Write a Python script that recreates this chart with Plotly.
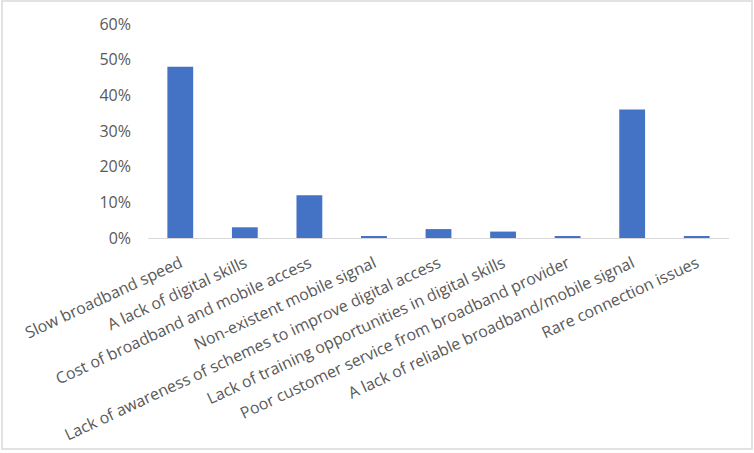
import plotly.graph_objects as go

categories = [
    "Slow broadband speed",
    "A lack of digital skills",
    "Cost of broadband and mobile access",
    "Non-existent mobile signal",
    "Lack of awareness of schemes to improve digital access",
    "Lack of training opportunities in digital skills",
    "Poor customer service from broadband provider",
    "A lack of reliable broadband/mobile signal",
    "Rare connection issues",
]
values = [0.48, 0.03, 0.12, 0.005, 0.025, 0.018, 0.005, 0.36, 0.005]
y_ticks = [0, 0.1, 0.2, 0.3, 0.4, 0.5, 0.6]
y_tick_labels = ["0%", "10%", "20%", "30%", "40%", "50%", "60%"]

W, H = 754, 453
L, R, T, B = 148, 25, 24, 215
pw = W - L - R
ph = H - T - B

fig = go.Figure(go.Bar(
    x=categories, y=values,
    marker=dict(color="#4472C4", line=dict(width=0)),
))

fig.update_layout(
    width=W, height=H,
    margin=dict(l=L, r=R, t=T, b=B),
    paper_bgcolor="white", plot_bgcolor="white",
    bargap=0.6,
    showlegend=False,
    font=dict(family="Open Sans", color="#595959", size=16),
    xaxis=dict(
        tickangle=-25, showgrid=False, showline=True, linecolor="#d9d9d9",
        linewidth=1, ticks="", tickfont=dict(size=16, color="#595959"),
        ticklabelstandoff=9, automargin=False,
    ),
    yaxis=dict(
        range=[0, 0.6], tickvals=y_ticks, ticktext=y_tick_labels,
        showgrid=False, zeroline=False, showline=False, ticks="",
        tickfont=dict(size=16, color="#595959"), ticklabelstandoff=16,
        automargin=False,
    ),
    shapes=[dict(
        type="rect", xref="paper", yref="paper",
        x0=(2 - L) / pw, x1=(752 - L) / pw,
        y0=(H - B - 449) / ph, y1=(H - B - 1) / ph,
        line=dict(color="#d9d9d9", width=1.5), fillcolor="rgba(0,0,0,0)",
        layer="below",
    )],
)

fig.write_html(
    "out.html",
    config={"displayModeBar": False},
    post_script="document.body.style.margin='0';document.body.style.overflow='hidden';",
)
